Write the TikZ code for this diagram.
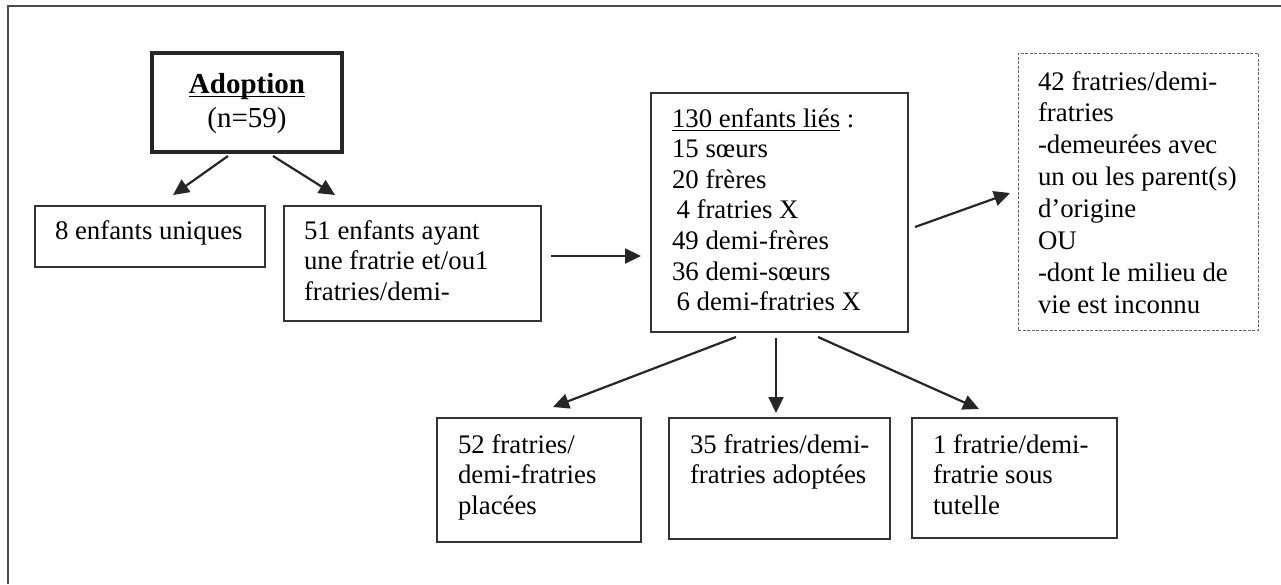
\documentclass[tikz,border=0pt]{standalone}
\usepackage{fontspec}
\setmainfont{Liberation Serif}
\usetikzlibrary{arrows.meta,calc}
\newcommand\myul[1]{\setbox0\hbox{#1}\rlap{\rule[-4pt]{\wd0}{1.4pt}}\box0\relax}
\tikzset{
  box/.style={rectangle, draw=black!80, line width=1.3pt, inner sep=0pt, outer sep=0pt, anchor=north west},
  thickbox/.style={box, draw=black!85, line width=3.3pt},
  dashbox/.style={box, draw=black!60, line width=1pt, dash pattern=on 3pt off 1.5pt},
  txt/.style={inner sep=0pt, outer sep=0pt, anchor=north west, align=left, font=\fontsize{26.8}{30.6}\selectfont},
  arr/.style={draw=black!85, line width=2.2pt, -{Triangle[length=16pt,width=15pt]}},
  frame/.style={draw=black!70, line width=2pt}
}
\begin{document}
\begin{tikzpicture}[x=1pt, y=-1pt]
\useasboundingbox (0,0) rectangle (1281,584);
\draw[frame] (8,584) -- (8,6) -- (1281,6);
% boxes
\node[thickbox, minimum width=190pt, minimum height=99pt] (adopt) at (152,53) {};
\node[box, minimum width=230pt, minimum height=61pt] (uniq) at (35,206) {};
\node[box, minimum width=257pt, minimum height=115pt] (fr51) at (284,206) {};
\node[box, minimum width=257pt, minimum height=239pt] (liens) at (651,93) {};
\node[dashbox, minimum width=240pt, minimum height=277pt] (autre) at (1018,53) {};
\node[box, minimum width=204pt, minimum height=124pt] (plac) at (437,418) {};
\node[box, minimum width=221pt, minimum height=121pt] (adop) at (669,418) {};
\node[box, minimum width=205pt, minimum height=120pt] (tut) at (912,418) {};
% texts
\node[inner sep=0pt, anchor=north, align=center, font=\fontsize{29}{34}\selectfont] (tadopt) at (247,69.2)
  {\strut\myul{\textbf{Adoption}}\\(n=59)};
\node[txt] (tuniq) at (55,217.6) {\strut 8 enfants uniques};
\node[txt] (tfr51) at (304,217.6) {\strut 51 enfants ayant\\une fratrie et/ou1\\fratries/demi-};
\node[txt] (tliens) at (672,105.6) {\strut\myul{130 enfants liés} :\\15 sœurs\\20 frères\\\hspace*{4.5pt}4 fratries X\\49 demi-frères\\36 demi-sœurs\\\hspace*{4.5pt}6 demi-fratries X};
\node[txt, font=\fontsize{26.8}{31.9}\selectfont] (tautre) at (1038,67.7)
  {\strut 42 fratries/demi-\\fratries\\-demeurées avec\\un ou les parent(s)\\d’origine\\OU\\-dont le milieu de\\vie est inconnu};
\node[txt] (tplac) at (458,431.6) {\strut 52 fratries/\\demi-fratries\\placées};
\node[txt] (tadop) at (690,431.6) {\strut 35 fratries/demi-\\fratries adoptées};
\node[txt] (ttut) at (933,431.6) {\strut 1 fratrie/demi-\\fratrie sous\\tutelle};
% arrows
\draw[arr] ($(adopt.south west)+(76,4)$) -- ($(uniq.north west)+(138,-11)$);
\draw[arr] ($(adopt.south west)+(121,4)$) -- ($(fr51.north west)+(51,-11)$);
\draw[arr] ($(fr51.north east)+(10,50)$) -- ($(liens.north west)+(-10,163)$);
\draw[arr] ($(liens.north east)+(7,134)$) -- ($(autre.north west)+(-8,140)$);
\draw[arr] ($(liens.south west)+(85,5)$) -- ($(plac.north west)+(116,-11)$);
\draw[arr] ($(liens.south west)+(125,6)$) -- ($(adop.north west)+(107,-5)$);
\draw[arr] ($(liens.south west)+(167,5)$) -- ($(tut.north west)+(67,-9)$);
\end{tikzpicture}
\end{document}
